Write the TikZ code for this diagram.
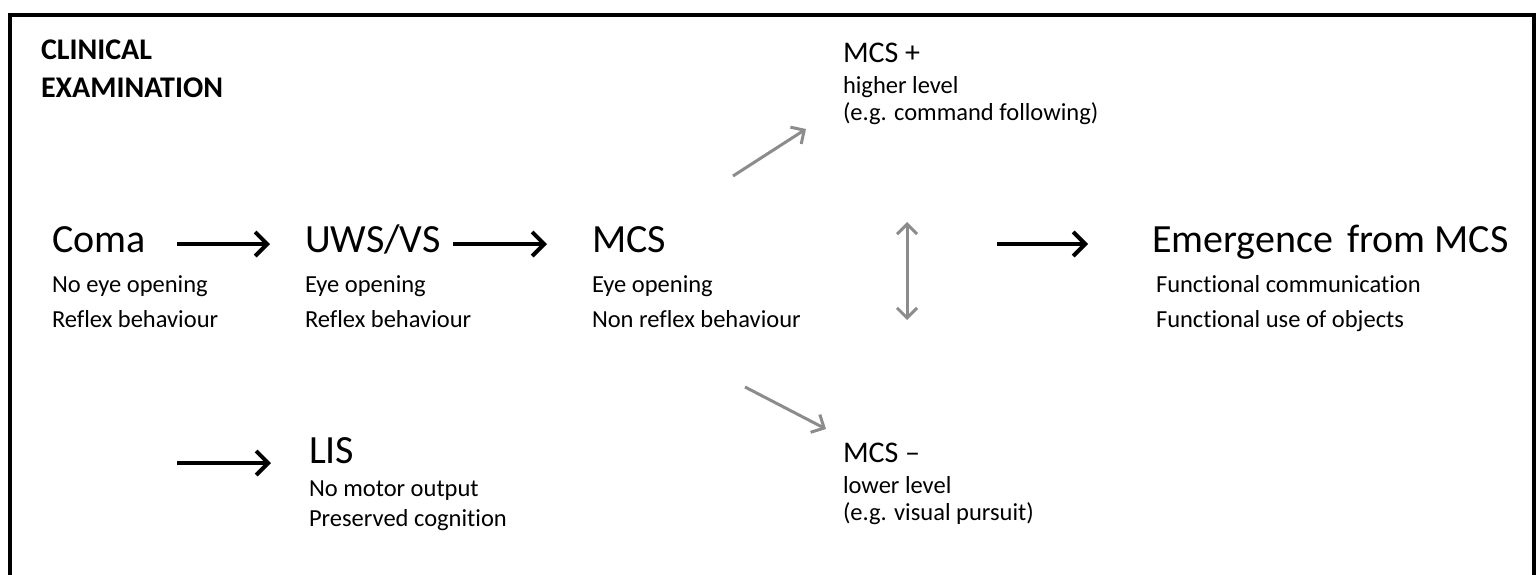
\documentclass[tikz,border=0pt]{standalone}
\usepackage{fontspec}
\setmainfont{Carlito}[Ligatures=NoCommon]
\usetikzlibrary{arrows.meta}
\definecolor{arrgray}{RGB}{140,140,140}
\tikzset{
  lbl/.style={anchor=base west, inner sep=0pt, outer sep=0pt},
  big/.style={lbl, font=\fontsize{40}{48}\selectfont},
  mid/.style={lbl, font=\fontsize{30}{36}\selectfont},
  small/.style={lbl, font=\fontsize{24.5}{29}\selectfont},
  ttl/.style={lbl, font=\fontsize{30}{36}\selectfont\bfseries},
  blackarr/.style={line width=4pt, black, -{Straight Barb[length=12pt,width=24pt,line width=4pt]}},
  grayarr/.style={line width=3pt, arrgray, -{Straight Barb[length=10pt,width=20pt,line width=3pt]}},
  graydbl/.style={line width=3pt, arrgray, {Straight Barb[length=10pt,width=20pt,line width=3pt]}-{Straight Barb[length=10pt,width=20pt,line width=3pt]}}
}
\begin{document}
\begin{tikzpicture}[x=1pt,y=-1pt]
\useasboundingbox (0,0) rectangle (1537,574);
\clip (0,0) rectangle (1537,574);
% frame
\draw[line width=4.5pt] (10,600) -- (10,15) -- (1534,15) -- (1534,600);
% title
\node[ttl] (title1) at (41,59) {CLINICAL};
\node[ttl] (title2) at (41,97) {EXAMINATION};
% coma
\node[big] (coma) at (52,252) {Coma};
\node[small] (comaA) at (52,292) {No eye opening};
\node[small] (comaB) at (52,327) {Reflex behaviour};
% uws
\node[big] (uws) at (305,252) {UWS/VS};
\node[small] (uwsA) at (305,292) {Eye opening};
\node[small] (uwsB) at (305,327) {Reflex behaviour};
% mcs
\node[big] (mcs) at (592,252) {MCS};
\node[small] (mcsA) at (592,292) {Eye opening};
\node[small] (mcsB) at (592,327) {Non reflex behaviour};
% emergence
\node[big] (emg) at (1152,252) {Emergence\hspace{5pt} from MCS};
\node[small] (emgA) at (1156,292) {Functional communication};
\node[small] (emgB) at (1156,327) {Functional use of objects};
% mcs plus
\node[mid] (mcsp) at (843,62) {MCS +};
\node[small] (mcspA) at (843,93) {higher level};
\node[small] (mcspB) at (843,120) {(e.g. command following)};
% mcs minus
\node[mid] (mcsm) at (843,462) {MCS –};
\node[small] (mcsmA) at (843,493) {lower level};
\node[small] (mcsmB) at (843,520) {(e.g. visual pursuit)};
% lis
\node[big] (lis) at (309,463) {LIS};
\node[small] (lisA) at (309,496) {No motor output};
\node[small] (lisB) at (309,526) {Preserved cognition};
% connectors
\coordinate (lisin) at (177,463);
\coordinate (dtop) at (907,222);
\coordinate (dbot) at (907,320);
\draw[blackarr] ([shift={(125,-8)}]coma.base west) -- ([shift={(-35,-8)}]uws.base west);
\draw[blackarr] ([shift={(148,-8)}]uws.base west) -- ([shift={(-45,-8)}]mcs.base west);
\draw[blackarr] ([shift={(405,-8)}]mcs.base west) -- ([shift={(-64,-8)}]emg.base west);
\draw[blackarr] (lisin) -- ([shift={(-38,0)}]lis.base west);
\draw[grayarr] ([shift={(141,-76)}]mcs.base west) -- ([shift={(-37,67)}]mcsp.base west);
\draw[grayarr] ([shift={(153,135)}]mcs.base west) -- ([shift={(-17,-33)}]mcsm.base west);
\draw[graydbl] (dtop) -- (dbot);
\end{tikzpicture}
\end{document}
